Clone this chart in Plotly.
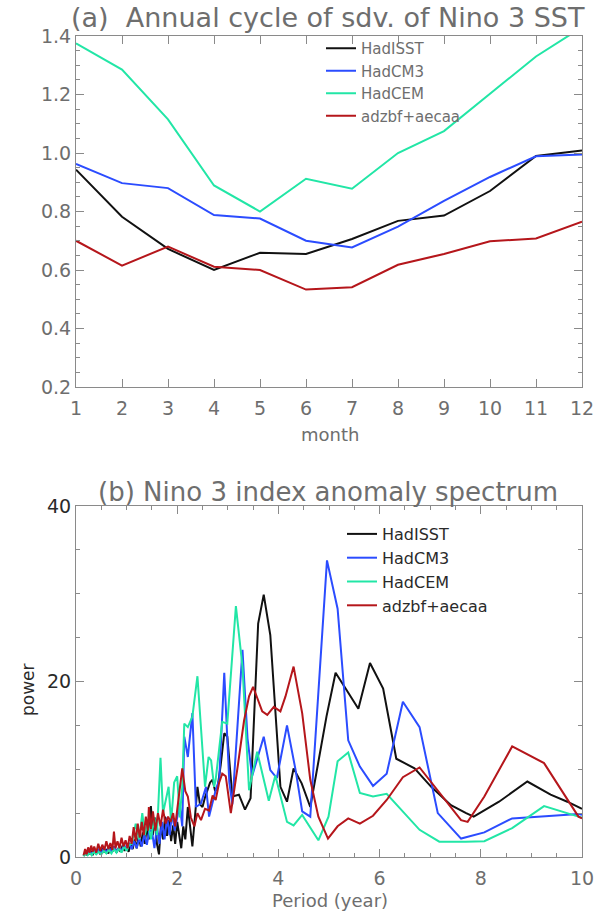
import plotly.graph_objects as go

# ---------------- Panel (a): annual cycle of sdv of Nino 3 SST ----------------
months = list(range(1, 13))
a_hadisst = [0.943, 0.782, 0.672, 0.600, 0.659, 0.655, 0.706, 0.768, 0.786, 0.870, 0.990, 1.009]
a_hadcm3 = [0.963, 0.897, 0.880, 0.788, 0.776, 0.700, 0.677, 0.748, 0.836, 0.918, 0.989, 0.995]
a_hadcem = [1.375, 1.285, 1.115, 0.889, 0.800, 0.912, 0.878, 1.000, 1.075, 1.203, 1.330, 1.430]
a_adz = [0.700, 0.615, 0.680, 0.611, 0.600, 0.533, 0.541, 0.618, 0.655, 0.698, 0.708, 0.765]

# ---------------- Panel (b): Nino 3 index anomaly spectrum ----------------
b_hadisst_p = [0.15, 0.18, 0.21, 0.24, 0.27, 0.30, 0.33, 0.36, 0.40, 0.44, 0.48, 0.52, 0.56, 0.60,
               0.64, 0.68, 0.72, 0.76, 0.80, 0.84, 0.88, 0.92, 0.96, 1.00, 1.04, 1.08, 1.12, 1.16,
               1.20, 1.24, 1.28, 1.32, 1.36, 1.40, 1.44, 1.48, 1.52, 1.56, 1.60, 1.64, 1.68, 1.72,
               1.76, 1.80, 1.84, 1.88, 1.92, 1.96, 2.00, 2.04, 2.08, 2.12, 2.16, 2.21, 2.26, 2.30,
               2.35, 2.40, 2.45, 2.50, 2.55, 2.60, 2.65, 2.70, 2.75, 2.80, 2.86, 2.93, 2.99, 3.09,
               3.22, 3.34, 3.45, 3.60, 3.71, 3.84, 4.04, 4.17, 4.30, 4.46, 4.63, 4.95, 5.13, 5.35,
               5.58, 5.81, 6.07, 6.33, 6.69, 7.02, 7.41, 7.71, 7.86, 8.36, 8.92, 9.38, 9.71, 10.0]
b_hadisst_v = [0.1, 0.5, 0.2, 0.6, 0.3, 0.7, 0.2, 0.8, 0.4, 0.9, 0.3, 1.0, 0.5, 0.9,
               0.4, 1.1, 0.6, 1.2, 0.5, 1.0, 0.6, 1.3, 0.7, 1.1, 0.6, 1.5, 0.9, 2.0,
               1.0, 2.4, 1.2, 2.8, 1.5, 3.5, 2.0, 5.8, 2.5, 4.5, 1.5, 0.3, 3.8, 2.0,
               4.6, 2.4, 4.2, 1.8, 3.6, 1.5, 4.0, 2.3, 1.0, 3.5, 2.0, 5.7, 3.2, 1.2,
               4.5, 8.0, 6.0, 5.7, 6.8, 7.8, 8.5, 8.8, 7.5, 8.0, 10.5, 14.1, 13.7, 6.9,
               7.1, 5.4, 6.7, 26.6, 29.9, 25.3, 8.0, 6.3, 10.1, 8.4, 5.7, 16.0, 21.0, 19.0,
               16.9, 22.1, 19.2, 11.2, 10.1, 8.0, 5.9, 5.0, 4.6, 6.3, 8.6, 7.1, 6.3, 5.5]

b_hadcm3_p = [0.15, 0.19, 0.23, 0.27, 0.31, 0.35, 0.40, 0.45, 0.50, 0.55, 0.60, 0.65, 0.70, 0.75,
              0.80, 0.85, 0.90, 0.95, 1.00, 1.05, 1.10, 1.15, 1.20, 1.25, 1.30, 1.35, 1.40, 1.45,
              1.50, 1.55, 1.60, 1.65, 1.70, 1.75, 1.80, 1.85, 1.90, 1.95, 2.00, 2.05, 2.10, 2.14,
              2.21, 2.30, 2.37, 2.47, 2.57, 2.63, 2.76, 2.83, 2.93, 3.03, 3.09, 3.16, 3.29, 3.39,
              3.48, 3.71, 3.84, 3.97, 4.17, 4.34, 4.47, 4.63, 4.96, 5.17, 5.38, 5.61, 5.87, 6.14,
              6.46, 6.79, 7.15, 7.61, 8.07, 8.62, 9.93, 10.0]
b_hadcm3_v = [0.2, 0.6, 0.3, 0.7, 0.3, 0.8, 0.4, 0.9, 0.4, 1.0, 0.5, 1.1, 0.6, 1.2,
              0.6, 1.1, 0.7, 1.4, 0.8, 1.6, 0.9, 1.8, 1.0, 2.2, 1.2, 2.6, 1.4, 3.0,
              3.0, 1.0, 3.5, 1.5, 4.0, 2.0, 4.5, 2.5, 5.0, 3.0, 4.5, 6.0, 3.5, 13.7,
              11.4, 16.4, 5.7, 6.1, 8.0, 4.6, 7.6, 8.8, 21.0, 8.5, 6.0, 11.8, 23.6, 13.5,
              9.2, 13.7, 9.9, 9.0, 15.0, 9.9, 5.2, 4.6, 33.8, 28.3, 13.3, 10.3, 8.1, 9.5,
              17.7, 14.8, 5.0, 2.1, 2.8, 4.4, 4.9, 4.8]

b_hadcem_p = [0.15, 0.19, 0.23, 0.27, 0.31, 0.35, 0.40, 0.45, 0.50, 0.55, 0.60, 0.65, 0.70, 0.75,
              0.80, 0.85, 0.90, 0.95, 1.00, 1.05, 1.10, 1.14, 1.18, 1.25, 1.31, 1.36, 1.42, 1.48,
              1.55, 1.60, 1.67, 1.72, 1.77, 1.83, 1.88, 1.94, 2.00, 2.05, 2.10, 2.14, 2.21, 2.30,
              2.40, 2.50, 2.55, 2.62, 2.67, 2.73, 2.76, 2.89, 2.99, 3.16, 3.29, 3.42, 3.58, 3.81,
              3.94, 4.17, 4.30, 4.47, 4.79, 4.99, 5.17, 5.38, 5.61, 5.87, 6.14, 6.79, 7.18, 7.70,
              8.07, 8.62, 9.25, 9.93, 10.0]
b_hadcem_v = [0.1, 0.4, 0.2, 0.5, 0.2, 0.6, 0.3, 0.6, 0.3, 0.7, 0.4, 0.8, 0.4, 0.9,
              0.5, 1.0, 0.5, 1.2, 0.7, 1.4, 1.5, 2.5, 3.8, 2.0, 5.0, 2.5, 4.0, 2.0,
              4.5, 2.5, 11.3, 5.0, 6.5, 8.0, 4.0, 8.5, 9.2, 4.5, 8.0, 15.2, 14.8, 16.0,
              20.6, 11.4, 8.0, 11.4, 11.0, 8.0, 8.8, 15.4, 15.2, 28.6, 21.7, 7.6, 12.0, 6.4,
              9.3, 4.0, 3.6, 4.8, 1.9, 4.6, 10.9, 11.9, 7.3, 6.9, 7.2, 3.1, 1.75, 1.75,
              1.8, 3.3, 5.8, 4.6, 4.5]

b_adz_p = [0.15, 0.18, 0.21, 0.24, 0.27, 0.30, 0.33, 0.36, 0.40, 0.44, 0.48, 0.52, 0.56, 0.60,
           0.64, 0.68, 0.72, 0.75, 0.78, 0.82, 0.86, 0.90, 0.94, 0.98, 1.02, 1.06, 1.10, 1.14,
           1.18, 1.22, 1.26, 1.30, 1.34, 1.38, 1.42, 1.44, 1.48, 1.52, 1.57, 1.62, 1.67, 1.72,
           1.77, 1.82, 1.87, 1.92, 1.96, 2.03, 2.10, 2.16, 2.21, 2.27, 2.34, 2.40, 2.47, 2.55,
           2.63, 2.70, 2.76, 2.83, 2.89, 2.96, 3.06, 3.20, 3.32, 3.42, 3.50, 3.68, 3.78, 3.91,
           4.04, 4.14, 4.30, 4.47, 4.63, 4.79, 4.98, 5.17, 5.38, 5.61, 5.87, 6.14, 6.46, 6.79,
           7.15, 7.61, 7.74, 8.07, 8.62, 9.25, 9.93, 10.0]
b_adz_v = [0.2, 0.9, 0.3, 1.1, 0.5, 1.3, 0.6, 1.2, 0.5, 1.5, 0.7, 1.4, 0.8, 1.8,
           0.9, 1.6, 0.8, 2.9, 1.0, 1.8, 1.0, 2.2, 1.2, 1.9, 1.0, 2.4, 1.5, 3.4,
           1.8, 3.8, 2.2, 4.0, 2.5, 4.6, 3.0, 5.7, 3.2, 5.2, 3.0, 5.0, 3.5, 5.4,
           3.8, 4.6, 4.0, 5.0, 3.5, 6.5, 10.1, 7.5, 6.9, 4.5, 3.5, 5.0, 4.2, 5.5,
           5.3, 7.0, 6.5, 8.5, 9.5, 9.2, 5.0, 10.5, 15.5, 18.3, 19.4, 16.6, 16.2, 17.1,
           16.6, 18.3, 21.7, 16.4, 8.8, 4.6, 2.1, 3.5, 4.4, 3.8, 4.7, 6.5, 9.1, 10.2,
           7.6, 4.2, 4.0, 6.9, 12.6, 10.7, 4.6, 4.4]

names = ["HadISST", "HadCM3", "HadCEM", "adzbf+aecaa"]
colors = ["#111111", "#2b4cff", "#22e6a6", "#b5161b"]

FONT = "DejaVu Sans"
GRAY = "#6e6e6e"
DARK = "#2a2a2a"
AX = "#8a8a8a"

W, H = 595, 917
xl, xr = 76, 582
ta_top, ta_bot = 36, 387
tb_top, tb_bot = 506, 857

fig = go.Figure()

a_series = [a_hadisst, a_hadcm3, a_hadcem, a_adz]
for n, c, ys in zip(names, colors, a_series):
    fig.add_trace(go.Scatter(x=months, y=ys, mode="lines", name=n,
                             line=dict(color=c, width=2), xaxis="x", yaxis="y",
                             legend="legend"))

b_series = [(b_hadisst_p, b_hadisst_v), (b_hadcm3_p, b_hadcm3_v),
            (b_hadcem_p, b_hadcem_v), (b_adz_p, b_adz_v)]
for n, c, (ps, vs) in zip(names, colors, b_series):
    fig.add_trace(go.Scatter(x=ps, y=vs, mode="lines", name=n,
                             line=dict(color=c, width=2), xaxis="x2", yaxis="y2",
                             legend="legend2"))

def px_x(x):
    return x / W

def px_y(y):
    return 1 - y / H

common_axis = dict(showline=True, linecolor=AX, linewidth=1, mirror="allticks",
                   ticks="inside", tickcolor=AX, showgrid=False, zeroline=False,
                   ticklabeloverflow="allow", automargin=False,
                   tickfont=dict(family=FONT, size=19, color=GRAY))

fig.update_layout(
    width=W, height=H,
    margin=dict(l=0, r=0, t=0, b=0, autoexpand=False),
    paper_bgcolor="white", plot_bgcolor="white",
    showlegend=True,
    xaxis=dict(domain=[px_x(xl), px_x(xr)], range=[1, 12], tickvals=months,
               ticklen=8, anchor="y", ticklabelstandoff=4, **common_axis),
    yaxis=dict(domain=[px_y(ta_bot), px_y(ta_top)], range=[0.2, 1.4],
               tickvals=[0.2, 0.4, 0.6, 0.8, 1.0, 1.2, 1.4],
               ticktext=["0.2", "0.4", "0.6", "0.8", "1.0", "1.2", "1.4"],
               ticklen=8, minor=dict(dtick=0.05, ticklen=4, ticks="inside", tickcolor=AX),
               anchor="x", **common_axis),
    xaxis2=dict(domain=[px_x(xl), px_x(xr)], range=[0, 10], dtick=2,
                ticklen=8, minor=dict(dtick=0.5, ticklen=4, ticks="inside", tickcolor=AX),
                anchor="y2", ticklabelstandoff=4, **common_axis),
    yaxis2=dict(domain=[px_y(tb_bot), px_y(tb_top)], range=[0, 40], dtick=20,
                ticklen=8, minor=dict(dtick=5, ticklen=4, ticks="inside", tickcolor=AX),
                anchor="x2", **{**common_axis, "tickfont": dict(family=FONT, size=19, color=DARK)}),
    legend=dict(x=px_x(321), y=px_y(32), xanchor="left", yanchor="top",
                bgcolor="rgba(0,0,0,0)", font=dict(family=FONT, size=15, color=GRAY),
                tracegroupgap=0, itemwidth=30),
    legend2=dict(x=px_x(342), y=px_y(517), xanchor="left", yanchor="top",
                 bgcolor="rgba(0,0,0,0)", font=dict(family=FONT, size=16, color=DARK),
                 tracegroupgap=0, itemwidth=30),
)

fig.add_annotation(text="(a)  Annual cycle of sdv. of Nino 3 SST", xref="paper", yref="paper",
                   x=px_x(328), y=px_y(18), showarrow=False,
                   font=dict(family=FONT, size=27, color=GRAY), xanchor="center", yanchor="middle")
fig.add_annotation(text="month", xref="paper", yref="paper",
                   x=px_x(330), y=px_y(434), showarrow=False,
                   font=dict(family=FONT, size=18, color=GRAY), xanchor="center", yanchor="middle")
fig.add_annotation(text="(b) Nino 3 index anomaly spectrum", xref="paper", yref="paper",
                   x=px_x(328), y=px_y(492), showarrow=False,
                   font=dict(family=FONT, size=26, color=GRAY), xanchor="center", yanchor="middle")
fig.add_annotation(text="Period (year)", xref="paper", yref="paper",
                   x=px_x(330), y=px_y(900), showarrow=False,
                   font=dict(family=FONT, size=18, color=GRAY), xanchor="center", yanchor="middle")
fig.add_annotation(text="power", xref="paper", yref="paper",
                   x=px_x(28), y=px_y(690), showarrow=False, textangle=-90,
                   font=dict(family=FONT, size=17, color=DARK), xanchor="center", yanchor="middle")

fig.write_html("out.html")
